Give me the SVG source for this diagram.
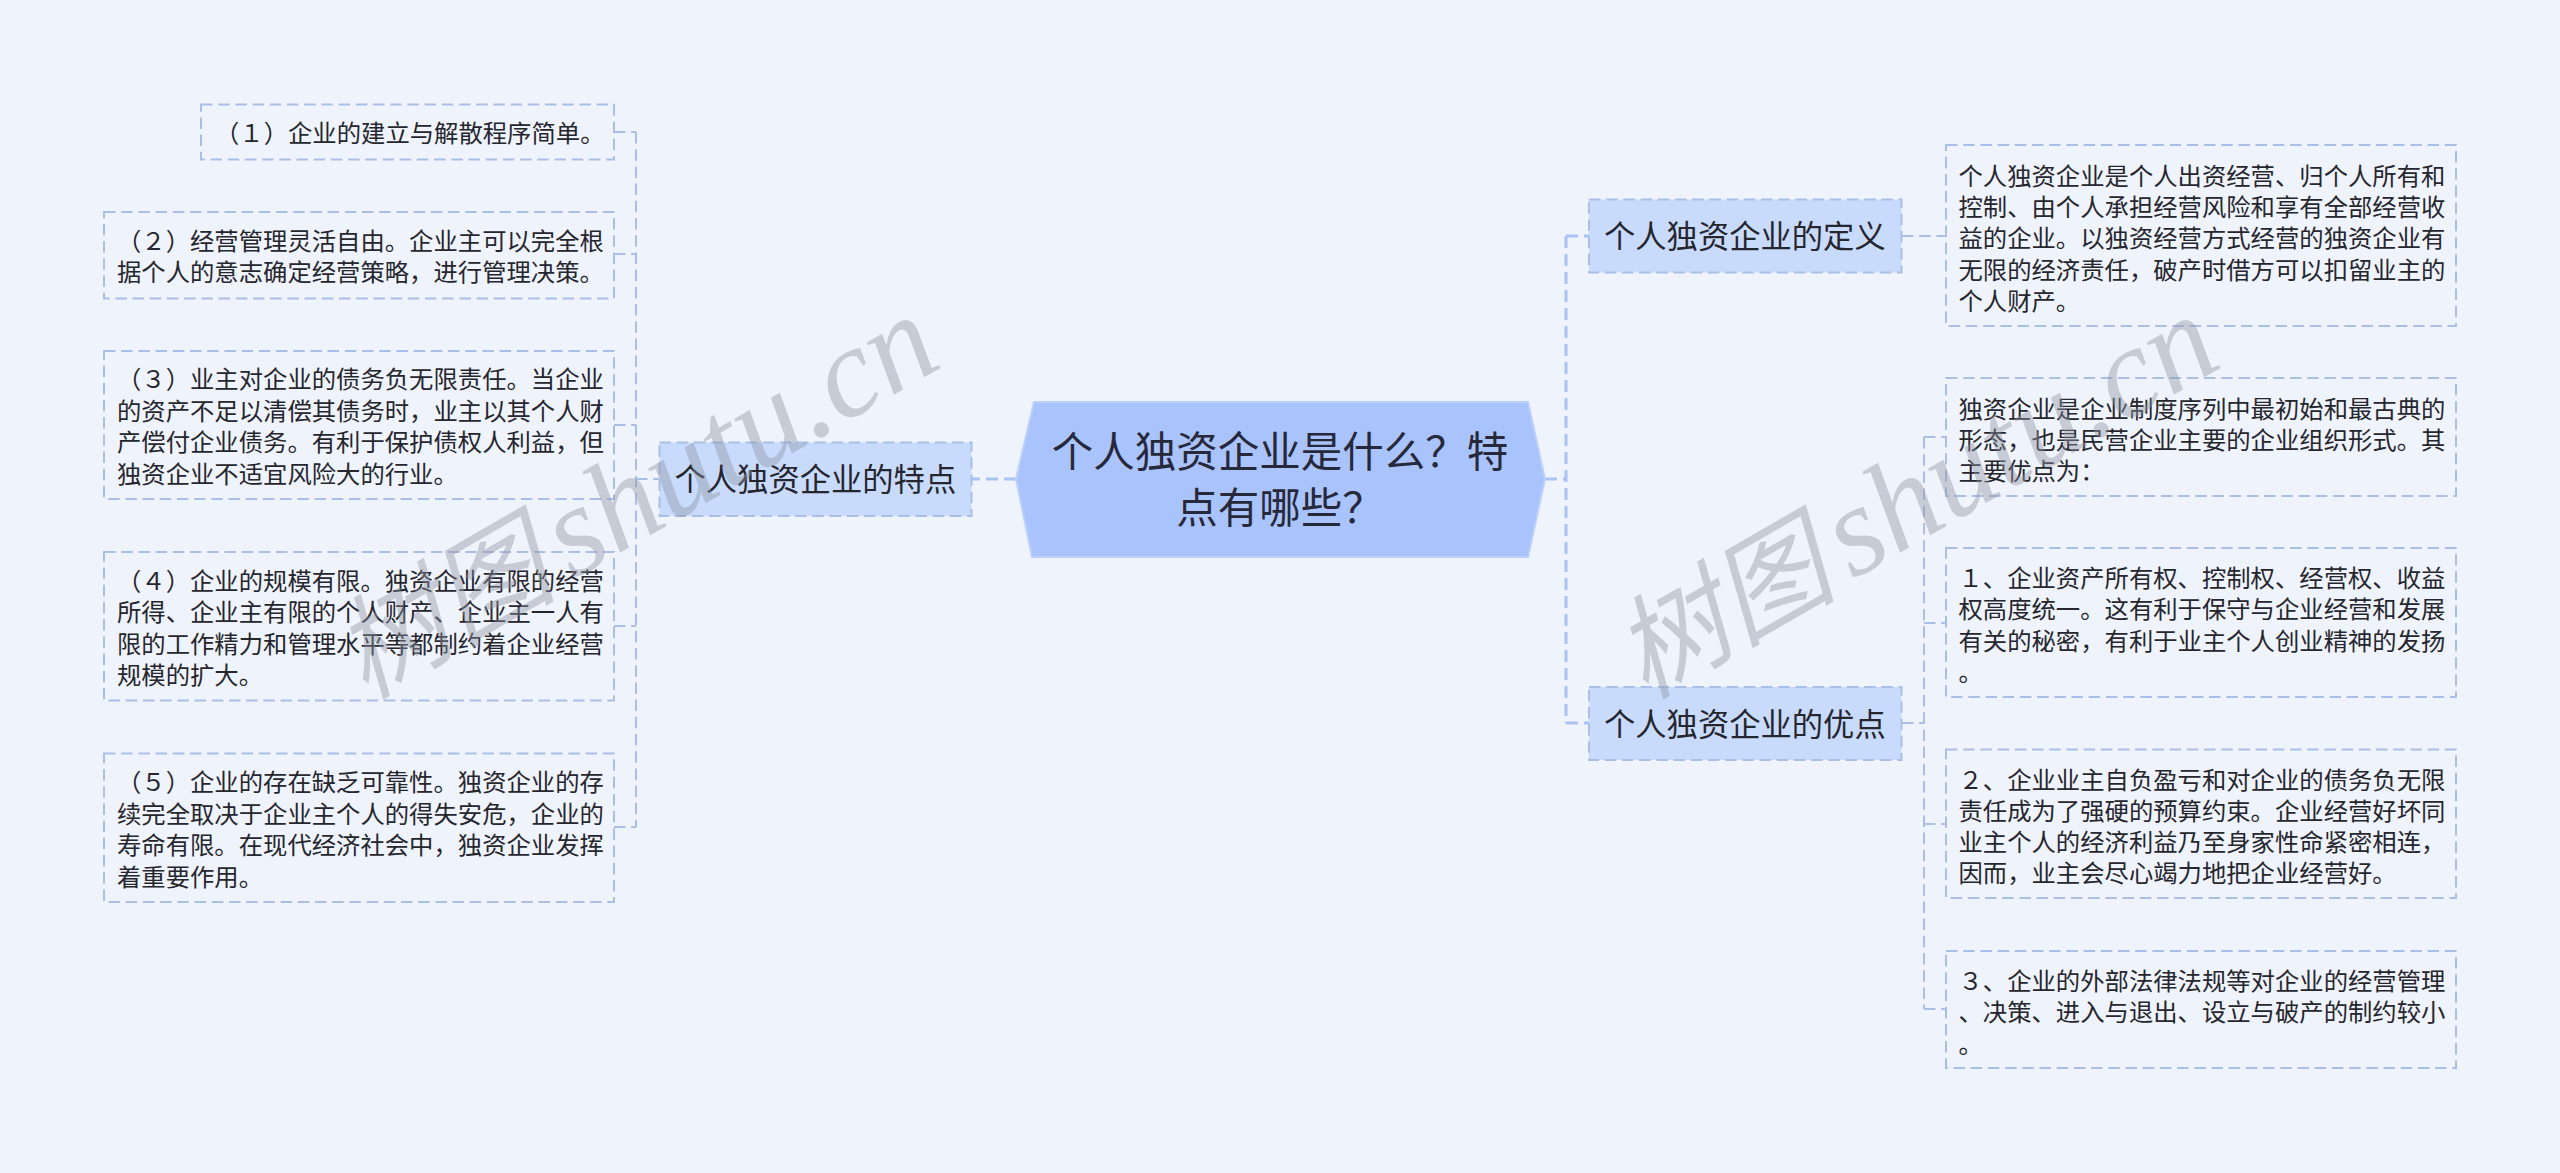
<svg xmlns="http://www.w3.org/2000/svg" width="2560" height="1173" viewBox="0 0 2560 1173">
<style>
text{font-family:"Noto Sans CJK SC","Noto Sans",sans-serif;fill:#26262e}
.t{font-size:24.35px}
.s{font-size:31.3px}
.c{font-size:41.5px;text-anchor:middle;fill:#27293a}
.leaf{fill:none;stroke:#a9bfe8;stroke-width:2;stroke-dasharray:11.5 5.7}
.sub{fill:#c9dbfd;stroke:#a9bfe8;stroke-width:2;stroke-dasharray:11.5 5.7}
.root{fill:#a9c3fd;stroke:#bdd0fa;stroke-width:2}
.l1{fill:none;stroke:#a9c3f5;stroke-width:3;stroke-dasharray:12 6}
.l2{fill:none;stroke:#a9bfe8;stroke-width:2;stroke-dasharray:11.5 5.7}
.wm{font-style:italic;fill:#8f96a3;opacity:.42}
.wm tspan{font-family:"Liberation Serif",serif}
.wm .h{font-family:"Noto Sans CJK SC",sans-serif;font-size:112px}
.wm .e{font-size:128px}
</style>
<rect width="2560" height="1173" fill="#eff3fb"/>
<g id="connectors">
<path class="l1" d="M1016 479H972"/>
<path class="l1" d="M1545 479H1566"/>
<path class="l1" d="M1566 236V723M1566 236H1589M1566 723H1589"/>
<path class="l2" d="M636 132V827M614 132H636M614 254H636M614 425H636M614 626H636M614 827H636M636 479H659"/>
<path class="l2" d="M1902 236H1946"/>
<path class="l2" d="M1902 723H1924M1924 437V1009M1924 437H1946M1924 623H1946M1924 824H1946M1924 1009H1946"/>
</g>
<g id="root"><polygon class="root" points="1034,402 1528,402 1545,479 1528,557 1032,557 1016,479"/>
<text class="c" x="1280" y="467">个人独资企业是什么？特</text><text class="c" x="1280" y="522.5">点有哪些？</text></g>
<g id="sub-left"><rect class="sub" x="659.5" y="442.5" width="312" height="73.5"/><text class="s" x="674.5" y="490.6">个人独资企业的特点</text></g>
<g id="sub-def"><rect class="sub" x="1589" y="199.5" width="312.5" height="73"/><text class="s" x="1604" y="247.6">个人独资企业的定义</text></g>
<g id="sub-adv"><rect class="sub" x="1589" y="687" width="312.5" height="73"/><text class="s" x="1604" y="735.5">个人独资企业的优点</text></g>
<g id="l1"><rect class="leaf" x="201" y="104.5" width="413" height="55"/><text class="t" x="215" y="141.5">（１）企业的建立与解散程序简单。</text></g>
<g id="l2"><rect class="leaf" x="104" y="212" width="510" height="86.5"/><text class="t" x="117" y="250">（２）经营管理灵活自由。企业主可以完全根</text><text class="t" x="117" y="281">据个人的意志确定经营策略，进行管理决策。</text></g>
<g id="l3"><rect class="leaf" x="104" y="351" width="510" height="148"/><text class="t" x="117" y="388">（３）业主对企业的债务负无限责任。当企业</text><text class="t" x="117" y="419.5">的资产不足以清偿其债务时，业主以其个人财</text><text class="t" x="117" y="451">产偿付企业债务。有利于保护债权人利益，但</text><text class="t" x="117" y="482.5">独资企业不适宜风险大的行业。</text></g>
<g id="l4"><rect class="leaf" x="104" y="552" width="510" height="148.5"/><text class="t" x="117" y="590">（４）企业的规模有限。独资企业有限的经营</text><text class="t" x="117" y="621">所得、企业主有限的个人财产、企业主一人有</text><text class="t" x="117" y="652.5">限的工作精力和管理水平等都制约着企业经营</text><text class="t" x="117" y="684">规模的扩大。</text></g>
<g id="l5"><rect class="leaf" x="104" y="753.5" width="510" height="148.5"/><text class="t" x="117" y="791">（５）企业的存在缺乏可靠性。独资企业的存</text><text class="t" x="117" y="822.5">续完全取决于企业主个人的得失安危，企业的</text><text class="t" x="117" y="854">寿命有限。在现代经济社会中，独资企业发挥</text><text class="t" x="117" y="885.5">着重要作用。</text></g>
<g id="r1"><rect class="leaf" x="1946" y="145" width="510" height="181"/><text class="t" x="1958.5" y="184.5">个人独资企业是个人出资经营、归个人所有和</text><text class="t" x="1958.5" y="216">控制、由个人承担经营风险和享有全部经营收</text><text class="t" x="1958.5" y="247">益的企业。以独资经营方式经营的独资企业有</text><text class="t" x="1958.5" y="278.5">无限的经济责任，破产时借方可以扣留业主的</text><text class="t" x="1958.5" y="310">个人财产。</text></g>
<g id="r2"><rect class="leaf" x="1946" y="378" width="510" height="118"/><text class="t" x="1958.5" y="417.5">独资企业是企业制度序列中最初始和最古典的</text><text class="t" x="1958.5" y="449">形态，也是民营企业主要的企业组织形式。其</text><text class="t" x="1958.5" y="480">主要优点为：</text></g>
<g id="r3"><rect class="leaf" x="1946" y="548" width="510" height="149"/><text class="t" x="1958.5" y="586.5">１、企业资产所有权、控制权、经营权、收益</text><text class="t" x="1958.5" y="618">权高度统一。这有利于保守与企业经营和发展</text><text class="t" x="1958.5" y="649.5">有关的秘密，有利于业主个人创业精神的发扬</text><text class="t" x="1958.5" y="681">。</text></g>
<g id="r4"><rect class="leaf" x="1946" y="749.5" width="510" height="148.5"/><text class="t" x="1958.5" y="788.5">２、企业业主自负盈亏和对企业的债务负无限</text><text class="t" x="1958.5" y="819.5">责任成为了强硬的预算约束。企业经营好坏同</text><text class="t" x="1958.5" y="851">业主个人的经济利益乃至身家性命紧密相连，</text><text class="t" x="1958.5" y="882">因而，业主会尽心竭力地把企业经营好。</text></g>
<g id="r5"><rect class="leaf" x="1946" y="951" width="510" height="117"/><text class="t" x="1958.5" y="990">３、企业的外部法律法规等对企业的经营管理</text><text class="t" x="1958.5" y="1021">、决策、进入与退出、设立与破产的制约较小</text><text class="t" x="1958.5" y="1052.5">。</text></g>
<text class="wm" transform="translate(365 700) rotate(-30)"><tspan class="h">树图</tspan><tspan class="e" x="240" y="0">shutu.cn</tspan></text>
<text class="wm" transform="translate(1645 700) rotate(-30)"><tspan class="h">树图</tspan><tspan class="e" x="240" y="0">shutu.cn</tspan></text>
</svg>
